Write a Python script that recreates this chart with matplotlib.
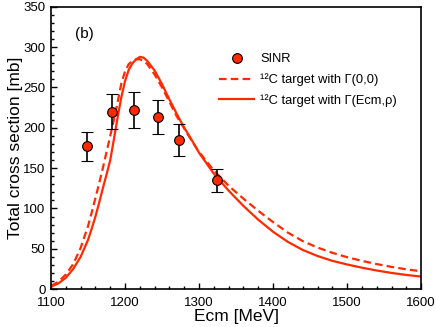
import matplotlib
matplotlib.use("Agg")
import matplotlib.pyplot as plt
from matplotlib.lines import Line2D
from matplotlib.ticker import MultipleLocator

plt.rcParams['font.family'] = ['Liberation Sans', 'DejaVu Sans']

# SINR data points
sinr_e = [1149, 1182, 1212, 1244, 1273, 1324]
sinr_xs = [177, 220, 222, 213, 185, 135]
sinr_err = [18, 22, 22, 21, 20, 14]

# calculated curves
curve_e = [1100, 1110, 1120, 1130, 1140, 1150, 1155, 1160, 1165, 1170, 1175,
           1180, 1185, 1190, 1195, 1200, 1205, 1210, 1215, 1220, 1225, 1230,
           1240, 1250, 1260, 1270, 1280, 1290, 1300, 1320, 1340, 1360, 1380,
           1400, 1420, 1440, 1460, 1480, 1500, 1520, 1540, 1560, 1580, 1600]
gamma_00 = [4, 9, 18, 31, 51, 78, 95, 113, 131, 150, 170,
            190, 210, 232, 255, 270, 279, 283, 285, 285, 283, 279,
            266, 250, 232, 214, 199, 184, 170, 147, 128, 112, 97,
            83, 70, 59.5, 51.5, 45, 39.5, 35, 31, 27.5, 24.5, 22]
gamma_erho = [3, 7, 14, 25, 40, 61, 75, 90, 107, 125, 142,
              160, 186, 213, 238, 258, 272, 280, 285, 288, 287, 283,
              271, 254, 235, 217, 200, 185, 169, 143, 122, 103, 86,
              71, 58.5, 48.5, 41, 35, 30.5, 26.5, 23, 20, 17.5, 15.5]

red = '#ff2a00'

fig = plt.figure(figsize=(4.36, 3.27), dpi=100)
ax = fig.add_axes([0.117, 0.116, 0.849, 0.863])

ax.errorbar(sinr_e, sinr_xs, yerr=sinr_err, fmt='o', color=red, mec='black',
            mew=0.8, ms=7, ecolor='black', elinewidth=1.2, capsize=4,
            capthick=1.2, zorder=3)
ax.plot(curve_e, gamma_00, '--', color=red, lw=1.6, dashes=(3.4, 1.9))
ax.plot(curve_e, gamma_erho, '-', color=red, lw=1.6)

ax.set_xlim(1100, 1600)
ax.set_ylim(0, 350)
ax.xaxis.set_major_locator(MultipleLocator(100))
ax.xaxis.set_minor_locator(MultipleLocator(20))
ax.yaxis.set_major_locator(MultipleLocator(50))
ax.yaxis.set_minor_locator(MultipleLocator(10))
ax.tick_params(which='both', direction='in', top=False, right=False,
               labelsize=9.5, width=1.0)
ax.tick_params(axis='x', which='major', length=4.5, pad=6)
ax.tick_params(axis='y', which='major', length=4.5, pad=4)
ax.tick_params(which='minor', length=2.5)
for s in ax.spines.values():
    s.set_linewidth(1.2)

ax.set_xlabel('Ecm [MeV]', fontsize=12.5, labelpad=0)
ax.set_ylabel('Total cross section [mb]', fontsize=12.5, labelpad=0)
ax.text(0.065, 0.905, '(b)', transform=ax.transAxes, fontsize=11, va='center')

handles = [
    Line2D([], [], ls='none', marker='o', color=red, mec='black', mew=0.8, ms=7),
    Line2D([], [], ls='--', color=red, lw=1.6, dashes=(3.4, 1.9)),
    Line2D([], [], ls='-', color=red, lw=1.6),
]
labels = ['SINR', '¹²C target with Γ(0,0)', '¹²C target with Γ(Ecm,ρ)']
ax.legend(handles, labels, loc='upper left', bbox_to_anchor=(0.455, 0.835),
          frameon=False, fontsize=9.3, handlelength=2.7, handletextpad=0.45,
          labelspacing=0.6, borderpad=0, borderaxespad=0)

fig.savefig('out.png', dpi=100)
